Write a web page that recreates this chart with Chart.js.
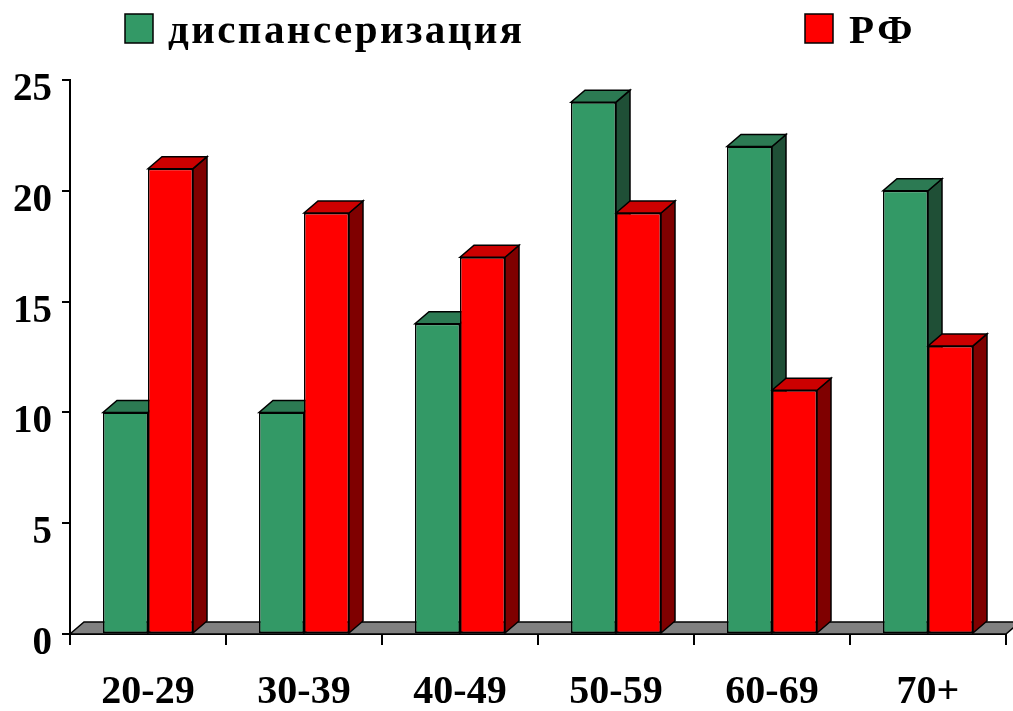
<!DOCTYPE html>
<html>
<head>
<meta charset="utf-8">
<script src="https://cdn.jsdelivr.net/npm/chart.js@4/dist/chart.umd.min.js"></script>
<style>
html,body{margin:0;padding:0;background:#fff;}
#wrap{width:1013px;height:711px;}
</style>
</head>
<body>
<div id="wrap"><canvas id="c" width="1013" height="711"></canvas></div>
<script>
const categories = ['20-29', '30-39', '40-49', '50-59', '60-69', '70+'];
const seriesNames = ['диспансеризация', 'РФ'];
const dispValues = [10, 10, 14, 24, 22, 20];
const rfValues = [21, 19, 17, 19, 11, 13];
const yTicks = [0, 5, 10, 15, 20, 25];

const FONT = '"Liberation Serif", "DejaVu Serif", serif';
const DX = 14, DY = 12;
const faces = [
  {front: '#339966', top: '#2c7a53', side: '#1f4f36'},
  {front: '#ff0000', top: '#cc0000', side: '#7f0000'}
];

function poly(ctx, pts, fill) {
  ctx.beginPath();
  ctx.moveTo(pts[0][0], pts[0][1]);
  for (let i = 1; i < pts.length; i++) ctx.lineTo(pts[i][0], pts[i][1]);
  ctx.closePath();
  ctx.fillStyle = fill;
  ctx.fill();
  ctx.lineWidth = 1.5;
  ctx.strokeStyle = '#000';
  ctx.stroke();
}

const threeD = {
  id: 'threeD',
  beforeDatasetsDraw(chart) {
    const ctx = chart.ctx;
    const xs = chart.scales.x, ys = chart.scales.y;
    const y0 = ys.getPixelForValue(0);
    ctx.save();
    poly(ctx, [[xs.left, y0], [xs.right, y0], [xs.right + DX, y0 - DY], [xs.left + DX, y0 - DY]], '#808080');
    for (let i = 0; i < categories.length; i++) {
      for (let d = 0; d < chart.data.datasets.length; d++) {
        const el = chart.getDatasetMeta(d).data[i];
        const l = el.x - el.width / 2, r = el.x + el.width / 2, t = el.y, b = el.base;
        poly(ctx, [[r, b], [r + DX, b - DY], [r + DX, t - DY], [r, t]], faces[d].side);
        poly(ctx, [[l, t], [r, t], [r + DX, t - DY], [l + DX, t - DY]], faces[d].top);
      }
    }
    ctx.restore();
  },
  afterDraw(chart) {
    const ctx = chart.ctx;
    ctx.save();
    const items = [
      {box: 125, text: 168, end: 522},
      {box: 805, text: 849, end: 914}
    ];
    items.forEach((it, d) => {
      ctx.fillStyle = faces[d].front;
      ctx.fillRect(it.box, 14, 28, 29);
      ctx.lineWidth = 1.5;
      ctx.strokeStyle = '#000';
      ctx.strokeRect(it.box, 14, 28, 29);
      ctx.font = 'bold 41px ' + FONT;
      ctx.fillStyle = '#000';
      ctx.textBaseline = 'alphabetic';
      ctx.textAlign = 'left';
      const name = seriesNames[d];
      ctx.letterSpacing = '0px';
      const w = ctx.measureText(name).width;
      const n = [...name].length;
      let sp = n > 1 ? ((it.end - it.text) - w) / (n - 1) : 0;
      sp = Math.min(Math.max(0, sp), 4);
      ctx.letterSpacing = sp.toFixed(2) + 'px';
      ctx.fillText(name, it.text, 43);
    });
    ctx.restore();
  }
};

new Chart(document.getElementById('c'), {
  type: 'bar',
  data: {
    labels: categories,
    datasets: [
      {label: seriesNames[0], data: dispValues, backgroundColor: faces[0].front, borderColor: '#000', borderWidth: 1.5, borderSkipped: false},
      {label: seriesNames[1], data: rfValues, backgroundColor: faces[1].front, borderColor: '#000', borderWidth: 1.5, borderSkipped: false}
    ]
  },
  options: {
    responsive: false,
    animation: false,
    devicePixelRatio: 1,
    layout: {padding: {top: 80, right: 7, left: 0, bottom: 0}},
    plugins: {legend: {display: false}, tooltip: {enabled: false}},
    datasets: {bar: {categoryPercentage: 0.577, barPercentage: 1}},
    scales: {
      x: {
        grid: {offset: true, drawOnChartArea: false, drawTicks: true, tickLength: 11, color: '#000', lineWidth: 2},
        border: {display: true, color: '#000', width: 2},
        ticks: {color: '#000', font: {family: FONT, size: 40, weight: 'bold'}, padding: 24, maxRotation: 0},
        afterFit(s) { s.height = 77; }
      },
      y: {
        min: 0, max: 25,
        afterBuildTicks(s) { s.ticks = yTicks.map(v => ({value: v})); },
        grid: {drawOnChartArea: false, drawTicks: true, tickLength: 8, color: '#000', lineWidth: 2},
        border: {display: true, color: '#000', width: 2},
        ticks: {color: '#000', font: {family: FONT, size: 39, weight: 'bold'}, padding: 10, labelOffset: 10},
        afterFit(s) { s.width = 70; }
      }
    }
  },
  plugins: [threeD]
});
</script>
</body>
</html>
